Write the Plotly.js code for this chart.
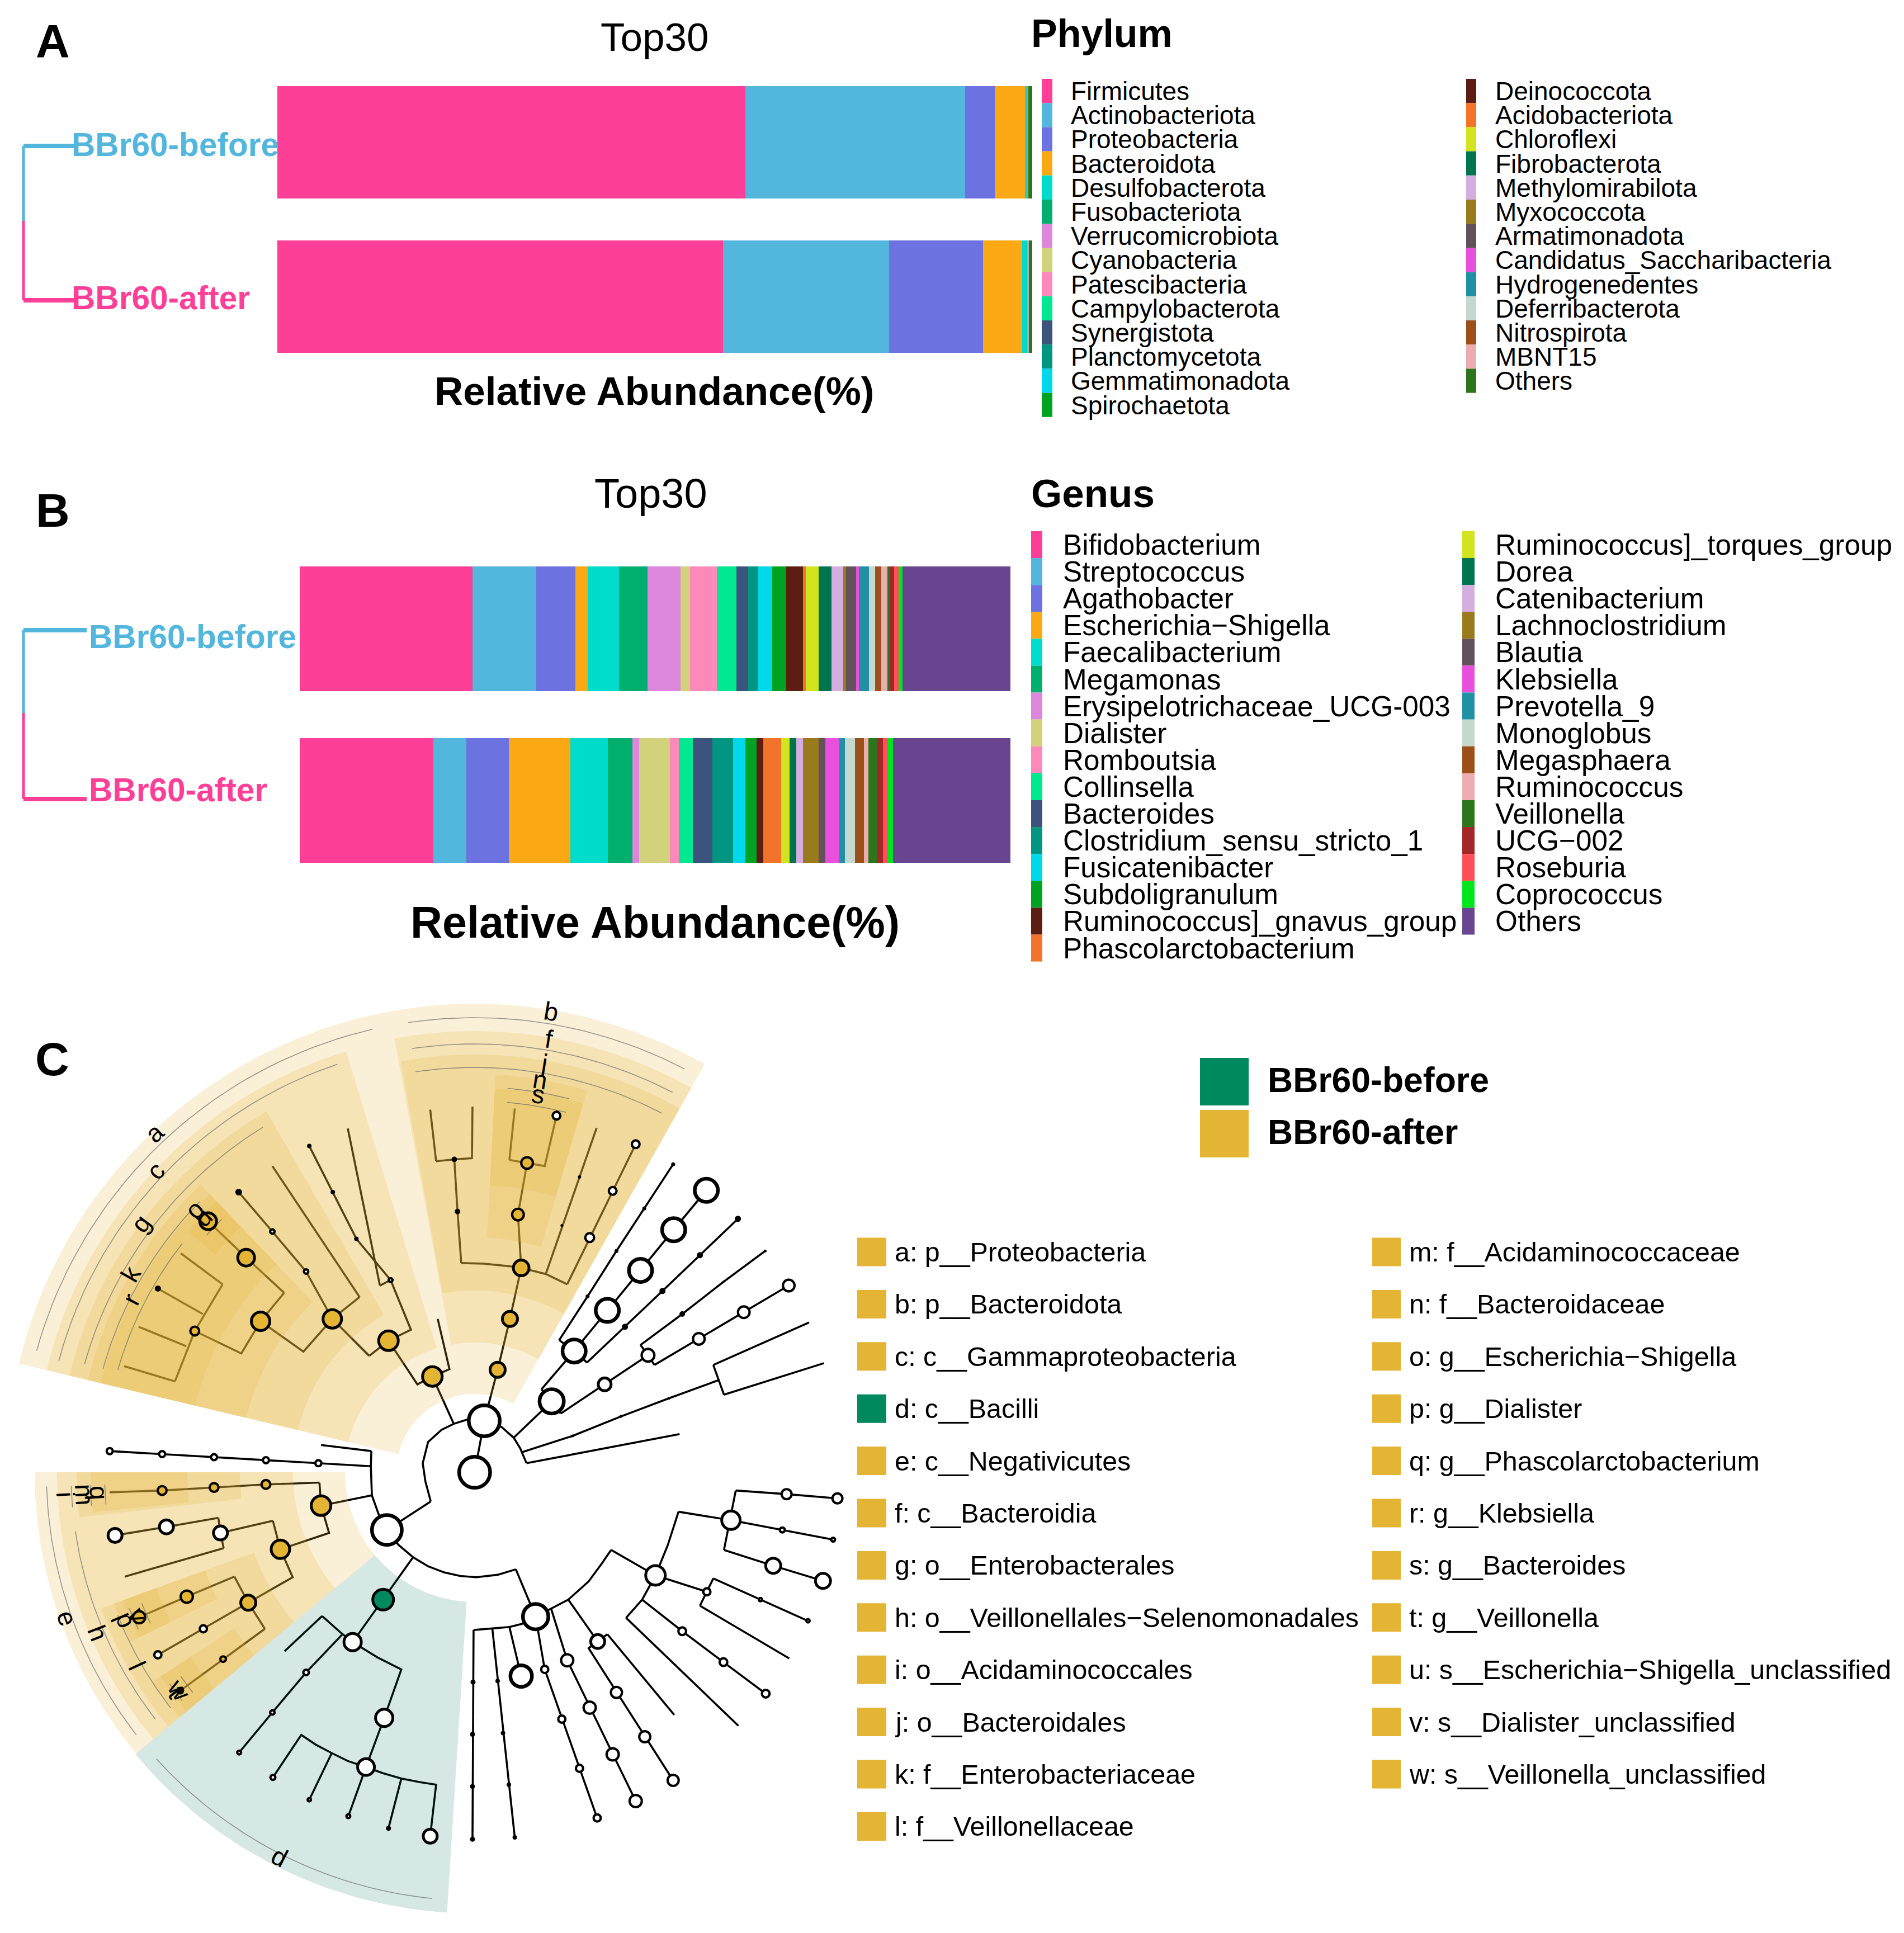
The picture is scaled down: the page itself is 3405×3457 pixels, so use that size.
<!DOCTYPE html>
<html><head><meta charset="utf-8">
<script src="https://cdn.plot.ly/plotly-3.0.1.min.js"></script>
<style>html,body{margin:0;padding:0;background:#fff}</style></head>
<body><div id="chart" style="width:3405px;height:3457px"></div>
<script>
const FONT='"Liberation Sans", Arial, sans-serif';
const groups=['BBr60-before','BBr60-after'];
const palette=['#FD3F98','#53B6DC','#6C72DF','#FAA813','#00DCCB','#00AF6E','#DD87DC','#D2D27C','#FC89B9','#00E890','#3C537C','#009682','#00D8EC','#00A221','#5C1E12','#F1742A','#D2E41E','#00734F','#D3AEDF','#997A1C','#62525C','#E84FDC','#2090A5','#C5D8D0','#9C4F19','#EBAEB0','#2D751D','#A32629','#FF505A','#00E61C','#69458F'];

const phylumNames=['Firmicutes','Actinobacteriota','Proteobacteria','Bacteroidota','Desulfobacterota','Fusobacteriota','Verrucomicrobiota','Cyanobacteria','Patescibacteria','Campylobacterota','Synergistota','Planctomycetota','Gemmatimonadota','Spirochaetota','Deinococcota','Acidobacteriota','Chloroflexi','Fibrobacterota','Methylomirabilota','Myxococcota','Armatimonadota','Candidatus_Saccharibacteria','Hydrogenedentes','Deferribacterota','Nitrospirota','MBNT15','Others'];
const phylumBefore=[62.0,29.1,3.93,4.0,0.2,0.04,0.03,0.03,0.02,0.03,0.01,0.01,0.01,0.01,0.01,0.01,0.01,0.01,0.01,0.005,0.005,0.005,0.005,0.005,0.005,0.005,0.52];
const phylumAfter=[59.0,22.07,12.44,5.19,0.59,0.02,0.02,0.03,0.02,0.02,0.02,0.01,0.01,0.01,0.01,0.01,0.01,0.01,0.03,0.005,0.005,0.005,0.005,0.005,0.005,0.005,0.52];
const phylumColors=palette.slice(0,26).concat(['#2D751D']);

const genusNames=['Bifidobacterium','Streptococcus','Agathobacter','Escherichia−Shigella','Faecalibacterium','Megamonas','Erysipelotrichaceae_UCG-003','Dialister','Romboutsia','Collinsella','Bacteroides','Clostridium_sensu_stricto_1','Fusicatenibacter','Subdoligranulum','Ruminococcus]_gnavus_group','Phascolarctobacterium','Ruminococcus]_torques_group','Dorea','Catenibacterium','Lachnoclostridium','Blautia','Klebsiella','Prevotella_9','Monoglobus','Megasphaera','Ruminococcus','Veillonella','UCG−002','Roseburia','Coprococcus','Others'];
const genusBefore=[24.3,8.96,5.53,1.72,4.39,4.0,4.67,1.32,3.82,2.77,1.63,1.42,1.96,1.93,2.38,0.42,1.81,1.78,1.69,0.36,1.39,0.45,1.39,0.84,0.87,0.87,0.39,0.6,0.63,0.54,15.2];
const genusAfter=[18.77,4.67,6.0,8.67,5.24,3.43,0.95,4.38,1.24,1.96,2.74,2.89,1.78,1.54,0.96,2.53,1.17,0.93,0.96,2.17,0.96,1.99,0.78,1.39,1.26,0.69,1.11,0.87,0.75,0.69,16.5];

const cladeLeft=['a: p__Proteobacteria','b: p__Bacteroidota','c: c__Gammaproteobacteria','d: c__Bacilli','e: c__Negativicutes','f: c__Bacteroidia','g: o__Enterobacterales','h: o__Veillonellales−Selenomonadales','i: o__Acidaminococcales','j: o__Bacteroidales','k: f__Enterobacteriaceae','l: f__Veillonellaceae'];
const cladeRight=['m: f__Acidaminococcaceae','n: f__Bacteroidaceae','o: g__Escherichia−Shigella','p: g__Dialister','q: g__Phascolarctobacterium','r: g__Klebsiella','s: g__Bacteroides','t: g__Veillonella','u: s__Escherichia−Shigella_unclassified','v: s__Dialister_unclassified','w: s__Veillonella_unclassified'];

const BEFORE='#00895F', AFTER='#E4B535';
const GOLDF='rgba(228,181,53,0.2)', GREENF='rgba(0,110,80,0.16)';
const treeCentre=[849,2633];
// clade sectors: [inner radius, outer radius, start angle, end angle, fill]
const sectors=[
 [140,838,101,166.6,GOLDF],[140,838,60.6,101,GOLDF],
 [232,787,107,166.6,GOLDF],[232,789,60.6,100.5,GOLDF],
 [325,745,120,166.6,GOLDF],[325,747,60.6,100.2,GOLDF],
 [420,711,133.6,166.6,GOLDF],[420,712,73.6,87,GOLDF],
 [514,687,133.6,140,GOLDF],[514,687,140,166.6,GOLDF],[514,687,73.6,87,GOLDF],
 [606,670,133.6,140,GOLDF],
 [232,787,180,219.7,GOLDF],[325,747,180,186.5,GOLDF],[325,747,186.5,219.7,GOLDF],
 [420,712,180,186.5,GOLDF],[514,687,180,186,GOLDF],
 [420,712,200,219.7,GOLDF],[513,687,200,206.2,GOLDF],[513,687,213,219.7,GOLDF],
 [606,670,200,206.2,GOLDF],[606,670,213,219.7,GOLDF],
 [232,789,219.7,266.4,GREENF]
];
// label arcs: [radius, start angle, end angle]
const arcs=[[813,103,164.5],[770,108.6,165],[724,121.5,164.5],[690,135.5,164.5],[664,142,164],[640,135,138.5],
 [813,62.5,98.4],[766,62.5,98.4],[724,62.5,98.4],[689,75.8,85.1],[664,75.8,85],
 [766,181.9,217.8],[722,188.4,217.7],[688,201.8,217.8],[664,201.5,205],[664,214.8,218],[640,201.5,205],[640,214.8,218],
 [722,181.9,185],[688,181.9,185],[662,181.9,185],[766,222,264.3]];
// clade letters: [text, x, y, polar angle]
const cladeTags=[['a',276,2026,133],['c',278,2094,136.7],['g',252,2188,143.3],['k',234,2278,150],['r',234,2324,153.3],['o',348,2163,135],['u',363,2177,135],
 ['b',986,1809,80.6],['f',981,1858,81],['j',973,1901,81],['n',966,1931,81],['s',962,1957,81],
 ['e',120,2894,199.7],['h',175,2921,201],['l',245,2979,205],['i',117,2673,183],['m',151,2673,183],['q',177,2670,183],['p',225,2897,203],['v',246,2888,203],['t',315,3026,217],['w',320,3022,216],['d',500,3321,243]];

// tree read in crop units
const treeEdges=[
[[805,853],[795,820],[790,790],[800,755],[825,735],[848,725],[873,718],[905,720],[937,730],[960,748],[972,765],[984,790]],
[[905,720],[887,805]],[[805,853],[750,885],[723,900]],[[984,790],[1270,742]],
[[975,772],[1070,745],[1160,713],[1250,683],[1343,653]],[[1333,628],[1353,677]],[[1333,628],[1512,558]],[[1353,677],[1540,625]],
[[960,748],[1031,688]],[[1012,668],[1048,708]],[[1012,668],[1073,605]],[[1048,708],[1130,660],[1211,612]],
[[1045,587],[1073,605],[1097,624]],[[1045,587],[1098,515],[1152,440],[1204,370],[1258,297]],
[[1073,605],[1135,538],[1197,472],[1259,405],[1320,340]],[[1097,624],[1168,565],[1238,506],[1308,447],[1379,387]],
[[1197,595],[1211,612],[1223,628]],[[1197,595],[1275,544],[1352,491],[1430,440]],[[1223,628],[1306,585],[1390,541],[1474,497]],
[[694,770],[693,795],[695,843],[708,875],[723,900]],[[694,770],[600,760]],
[[693,795],[595,790],[497,785],[400,780],[303,775],[205,770]],[[695,843],[600,860]],
[[597,822],[600,860],[615,905],[524,932]],[[597,822],[497,825],[400,830],[303,835],[205,838]],
[[510,885],[524,932],[547,978],[464,1020]],[[510,885],[412,905]],[[408,880],[412,905],[418,930]],[[408,880],[311,895],[215,909]],[[418,930],[233,977]],
[[438,977],[464,1020],[495,1063]],[[438,977],[349,1010],[260,1044]],[[464,1020],[380,1063],[295,1106]],[[495,1063],[417,1113],[337,1165]],
[[723,900],[745,925],[772,945],[800,960],[830,970],[860,976],[890,978],[930,974],[964,965]],[[772,945],[716,1015],[659,1085]],
[[602,1042],[635,1068],[659,1085],[705,1110],[750,1130],[718,1210],[684,1291]],[[602,1042],[532,1100]],[[640,1072],[572,1135],[509,1201],[447,1267]],
[[510,1308],[563,1238],[590,1254],[620,1268],[650,1281],[684,1291],[715,1301],[750,1310],[785,1316],[815,1320],[804,1405]],[[620,1268],[578,1345]],[[684,1291],[651,1372]],[[750,1310],[726,1392]],
[[964,965],[990,1020],[1001,1043]],[[885,1065],[920,1062],[952,1060],[975,1055],[1001,1043],[1030,1030],[1062,1015],[1100,985],[1125,955],[1142,933]],
[[885,1065],[883,1410]],[[920,1062],[962,1407]],[[952,1060],[974,1141]],[[1001,1043],[1018,1130],[1116,1375]],[[1030,1030],[1060,1115],[1188,1347]],
[[1062,1015],[1117,1084]],[[1135,1072],[1100,1095],[1258,1313]],[[1135,1072],[1260,1205]],[[1142,933],[1225,975]],
[[1268,870],[1248,925],[1225,975],[1200,1015],[1170,1045]],[[1268,870],[1366,884]],[[1375,835],[1353,933]],[[1375,835],[1470,841],[1565,848]],
[[1366,884],[1462,900],[1557,916]],[[1353,933],[1445,959],[1538,984]],[[1225,975],[1321,1002]],[[1333,980],[1308,1025]],[[1333,980],[1421,1015],[1510,1050]],[[1308,1025],[1475,1112]],
[[1200,1015],[1275,1067],[1352,1118],[1431,1170]],[[1170,1045],[1380,1223]],
[[848,725],[808,647]],[[818,552],[840,635],[808,647],[780,660],[726,588]],[[690,613],[726,588],[768,570],[730,488]],[[710,497],[650,238]],[[710,497],[730,488],[666,420],[622,343],[578,267]],
[[690,613],[621,552],[567,606],[487,556]],[[672,516],[621,552]],[[672,516],[509,300]],[[621,552],[572,474],[509,408],[446,343]],
[[531,509],[487,556],[451,609],[364,572]],[[531,509],[460,451],[389,391]],[[416,495],[364,572],[327,655]],[[416,495],[338,444]],[[379,544],[295,502]],[[348,597],[259,565]],[[327,655],[232,630]],
[[905,720],[930,636],[953,552],[974,468]],[[862,460],[905,461],[950,465],[974,468],[1020,478],[1060,495]],[[862,460],[855,375],[849,289]],[[815,292],[849,289],[882,287],[883,202]],[[815,292],[804,207]],
[[974,468],[968,380],[985,295]],[[952,290],[985,295],[1018,300],[1040,217]],[[952,290],[962,205]],[[1020,478],[1115,237]],[[1060,495],[1188,264]]
];
// x, y, diameter, kind: w white, g gold, k green, b black
const treeNodes=[
[905,720,62,'w'],[887,805,62,'w'],[1031,688,50,'w'],[1073,605,48,'w'],[1135,538,48,'w'],[1197,472,48,'w'],[1259,405,48,'w'],[1320,340,48,'w'],
[1098,515,7,'b'],[1152,440,7,'b'],[1204,370,7,'b'],[1258,297,7,'b'],[1168,565,11,'b'],[1238,506,11,'b'],[1308,447,11,'b'],[1379,387,11,'b'],
[1130,660,28,'w'],[1211,612,27,'w'],[1275,544,10,'b'],[1352,491,4,'b'],[1430,440,5,'b'],[1306,585,25,'w'],[1390,541,25,'w'],[1474,497,25,'w'],
[1070,745,5,'b'],[1160,713,5,'b'],[1250,683,5,'b'],[1343,653,4,'b'],
[723,900,60,'w'],[595,790,15,'w'],[497,785,15,'w'],[400,780,15,'w'],[303,775,15,'w'],[205,770,15,'w'],
[600,860,40,'g'],[497,825,20,'g'],[400,830,20,'g'],[303,835,20,'g'],[524,932,38,'g'],[412,905,30,'w'],[311,895,30,'w'],[215,909,30,'w'],
[464,1020,32,'g'],[349,1010,26,'g'],[260,1044,26,'g'],[380,1063,17,'w'],[295,1106,17,'w'],[417,1113,14,'g'],[337,1165,14,'g'],
[716,1015,42,'k'],[659,1085,36,'w'],[572,1135,14,'w'],[509,1201,12,'w'],[447,1267,11,'w'],[718,1210,36,'w'],[684,1291,35,'w'],
[510,1308,13,'w'],[578,1345,10,'w'],[651,1372,11,'w'],[726,1392,9,'b'],[804,1405,30,'w'],
[1001,1043,52,'w'],[974,1141,45,'w'],[884,1151,9,'b'],[883,1237,9,'b'],[883,1323,9,'b'],[883,1410,9,'b'],[930,1149,8,'b'],[940,1235,8,'b'],[951,1320,8,'b'],[962,1407,8,'b'],
[1018,1130,17,'w'],[1050,1212,17,'w'],[1083,1293,17,'w'],[1116,1375,17,'w'],[1060,1115,26,'w'],[1102,1193,26,'w'],[1145,1270,26,'w'],[1188,1347,26,'w'],
[1117,1084,30,'w'],[1152,1168,24,'w'],[1205,1241,24,'w'],[1258,1313,24,'w'],[1225,975,40,'w'],[1366,884,38,'w'],[1470,841,22,'w'],[1565,848,22,'w'],
[1462,900,13,'w'],[1557,916,11,'w'],[1445,959,32,'w'],[1538,984,32,'w'],[1321,1002,17,'w'],[1421,1015,10,'w'],[1510,1050,10,'w'],[1275,1067,18,'w'],[1352,1118,18,'w'],[1431,1170,18,'w'],
[808,647,40,'g'],[726,588,40,'g'],[621,552,38,'g'],[487,556,38,'g'],[460,451,35,'g'],[389,391,35,'g'],[364,572,20,'g'],[295,502,11,'b'],
[730,488,11,'w'],[666,420,8,'b'],[622,343,8,'b'],[578,267,8,'b'],[572,474,12,'w'],[509,408,12,'w'],[446,343,12,'b'],
[930,636,32,'g'],[953,552,32,'g'],[974,468,33,'g'],[968,380,25,'g'],[985,295,25,'g'],[1040,217,18,'w'],[855,375,10,'b'],[849,289,10,'b'],[1050,398,5,'b'],[1083,318,6,'b'],[1102,418,20,'w'],[1145,341,18,'w'],[1188,264,18,'w']
];

const toX=v=>v/1.045, toY=v=>1760+v/0.922;
const kindFill={w:'#FFFFFF',g:AFTER,k:BEFORE,b:'#000000'};

const traces=[];
function stack(names,a,b,colors,xa,ya){
 names.forEach((n,i)=>traces.push({type:'bar',orientation:'h',name:n,y:groups,x:[a[i],b[i]],xaxis:xa,yaxis:ya,marker:{color:colors[i],line:{width:0}},showlegend:false,hoverinfo:'name+x'}));
}
stack(phylumNames,phylumBefore,phylumAfter,phylumColors,'x','y');
stack(genusNames,genusBefore,genusAfter,palette,'x2','y2');

const O={xaxis:'x3',yaxis:'y3',showlegend:false,hoverinfo:'skip'};
const pt=(r,a)=>[treeCentre[0]+r*Math.cos(a*Math.PI/180),treeCentre[1]-r*Math.sin(a*Math.PI/180)];

// tree edges sit below the shaded clades
{const ex=[],ey=[];treeEdges.forEach(e=>{e.forEach(p=>{ex.push(toX(p[0]));ey.push(toY(p[1]));});ex.push(null);ey.push(null);});
 traces.push({...O,type:'scatter',mode:'lines',x:ex,y:ey,line:{color:'#000',width:3.6}});}
sectors.forEach(s=>{const xs=[],ys=[];
 for(let i=0;i<=48;i++){const p=pt(s[1],s[2]+(s[3]-s[2])*i/48);xs.push(p[0]);ys.push(p[1]);}
 for(let i=48;i>=0;i--){const p=pt(s[0],s[2]+(s[3]-s[2])*i/48);xs.push(p[0]);ys.push(p[1]);}
 xs.push(xs[0]);ys.push(ys[0]);
 traces.push({...O,type:'scatter',mode:'lines',x:xs,y:ys,fill:'toself',fillcolor:s[4],line:{width:0}});
});
{const ax=[],ay=[];arcs.forEach(c=>{for(let i=0;i<=40;i++){const p=pt(c[0],c[1]+(c[2]-c[1])*i/40);ax.push(p[0]);ay.push(p[1]);}ax.push(null);ay.push(null);});
 traces.push({...O,type:'scatter',mode:'lines',x:ax,y:ay,line:{color:'rgba(100,100,100,0.65)',width:1.6}});}
const ringW=d=>d>=45?6.5:d>=28?5:d>9?4.2:0;
traces.push({...O,type:'scatter',mode:'markers',x:treeNodes.map(n=>toX(n[0])),y:treeNodes.map(n=>toY(n[1])),
 marker:{opacity:1,size:treeNodes.map(n=>Math.max(n[2]-ringW(n[2]),3)),color:treeNodes.map(n=>kindFill[n[3]]),
 line:{color:'#000',width:treeNodes.map(n=>ringW(n[2]))}}});

// dendrograms beside the bars
function dendro(x0,x1,yTop,yMid,yBot){
 traces.push({...O,type:'scatter',mode:'lines',x:[x0,x0],y:[yTop,yMid],line:{color:palette[1],width:5}});
 traces.push({...O,type:'scatter',mode:'lines',x:[x0,x0],y:[yMid,yBot],line:{color:palette[0],width:5}});
 traces.push({...O,type:'scatter',mode:'lines',x:[x0,x1],y:[yTop,yTop],line:{color:palette[1],width:8}});
 traces.push({...O,type:'scatter',mode:'lines',x:[x0,x1],y:[yBot,yBot],line:{color:palette[0],width:8}});
}
dendro(42,132,261,395,537);
dendro(42,155,1127,1275,1429);

const ann=[],shapes=[];
const T=(t,x,y,size,o={})=>ann.push({text:t,x,y,xref:'x3',yref:'y3',showarrow:false,xanchor:o.anchor||'left',yanchor:'middle',textangle:o.rot||0,borderpad:0,
 font:{family:FONT,size,color:o.color||'#000',weight:o.bold?700:400}});
const R=(x0,x1,y0,y1,c)=>shapes.push({type:'rect',xref:'x3',yref:'y3',x0,x1,y0,y1,fillcolor:c,line:{width:0},layer:'above'});

T('A',94,74,84,{bold:1,anchor:'center'});T('B',94,913,84,{bold:1,anchor:'center'});T('C',93,1894,84,{bold:1,anchor:'center'});
T('Top30',1170,66,71,{anchor:'center'});T('Top30',1164,882,74,{anchor:'center'});
T('Relative Abundance(%)',1170,699,71,{bold:1,anchor:'center'});T('Relative Abundance(%)',1171,1649,79,{bold:1,anchor:'center'});
T('Phylum',1843,60,70,{bold:1});T('Genus',1843,882,71,{bold:1});
T(groups[0],127,258,58.6,{bold:1,color:palette[1]});T(groups[1],127,532,58.6,{bold:1,color:palette[0]});
T(groups[0],158,1138,58.6,{bold:1,color:palette[1]});T(groups[1],158,1412,58.6,{bold:1,color:palette[0]});

phylumNames.forEach((n,i)=>{const c=i<14?0:1,r=c?i-14:i,top=141+r*43.2;
 R(c?2622:1863,c?2640:1882,top,top+43.2,phylumColors[i]);T(n,c?2673:1914,top+22,46);});
genusNames.forEach((n,i)=>{const c=i<16?0:1,r=c?i-16:i,top=950+r*48.1;
 R(c?2615:1844,c?2637:1864,top,top+48.1,palette[i]);T(n,c?2673:1900,top+24.5,51.3);});

R(2146,2233,1892,1977,BEFORE);R(2146,2233,1985,2070,AFTER);
T(groups[0],2266,1931,62.5,{bold:1});T(groups[1],2266,2024,62.5,{bold:1});
cladeLeft.forEach((n,i)=>{const y=2239+i*93.4;R(1533,1585,y-25.5,y+25.5,n[0]==='d'?BEFORE:AFTER);T(n,1599,y,48.4);});
cladeRight.forEach((n,i)=>{const y=2239+i*93.4;R(2454,2505,y-25.5,y+25.5,AFTER);T(n,2519,y,48.4);});
cladeTags.forEach(t=>T(t[0],t[1],t[2],46,{anchor:'center',rot:t[3]<180?90-t[3]:270-t[3]}));

const H=3457,W=3405;
const off={visible:false,fixedrange:true};
Plotly.newPlot('chart',traces,{
 width:W,height:H,margin:{l:0,r:0,t:0,b:0},paper_bgcolor:'#fff',plot_bgcolor:'rgba(0,0,0,0)',barmode:'stack',showlegend:false,
 bargap:0.272,
 xaxis:{...off,domain:[496/W,1846/W],range:[0,100]},
 yaxis:{...off,anchor:'x',domain:[1-668.5/H,1-116.5/H],type:'category',categoryorder:'array',categoryarray:groups,autorange:false,range:[1.5,-0.5]},
 xaxis2:{...off,domain:[536/W,1807/W],range:[0,100],anchor:'y2'},
 yaxis2:{...off,anchor:'x2',domain:[1-1585/H,1-971/H],type:'category',categoryorder:'array',categoryarray:groups,autorange:false,range:[1.5,-0.5]},
 xaxis3:{...off,domain:[0,1],range:[0,W],anchor:'y3'},
 yaxis3:{...off,domain:[0,1],range:[H,0],anchor:'x3'},
 annotations:ann,shapes:shapes,font:{family:FONT}
},{staticPlot:true,displayModeBar:false});
</script></body></html>
